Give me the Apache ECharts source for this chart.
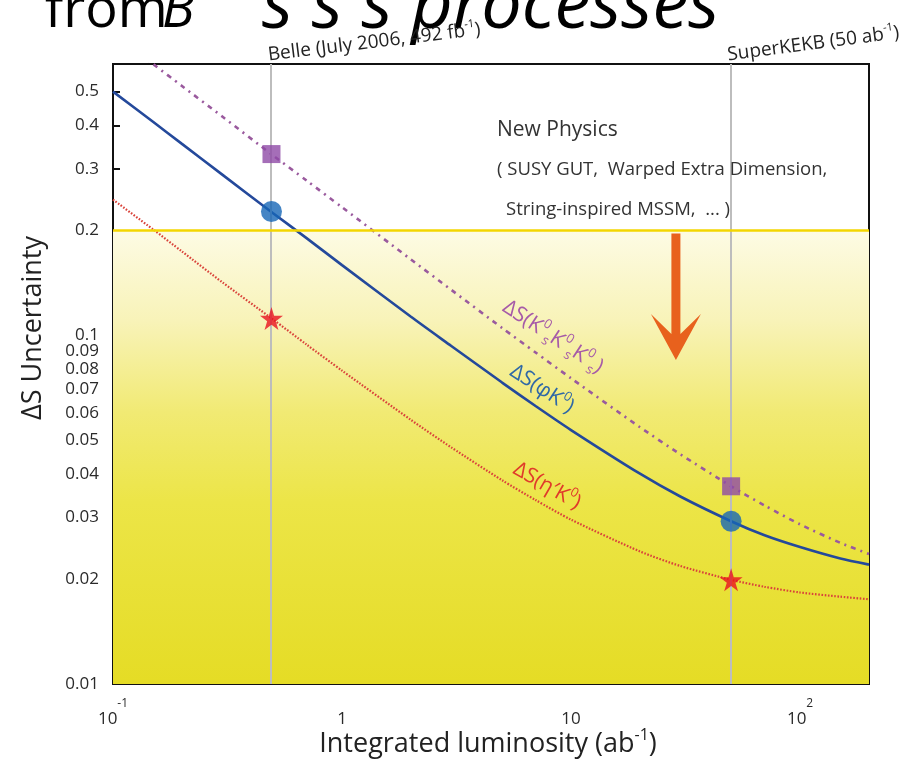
<!DOCTYPE html>
<html>
<head>
<meta charset="utf-8">
<script src="https://cdn.jsdelivr.net/npm/echarts@6/dist/echarts.min.js"></script>
<style>
  html, body { margin: 0; padding: 0; background: #ffffff; }
  #chart { width: 903px; height: 760px; }
</style>
</head>
<body>
<div id="chart"></div>
<script>
// Integrated luminosity (ab^-1) sample points
const luminosity = [0.1, 0.15, 0.2, 0.3, 0.5, 0.7, 1, 2, 3, 5, 7, 10, 20, 30, 50, 70, 100, 150, 200];
// Expected ΔS uncertainty for each mode
const phiK0 = [0.500, 0.409, 0.354, 0.289, 0.224, 0.190, 0.159, 0.113, 0.0932, 0.0732, 0.0627, 0.0535, 0.0401, 0.0345, 0.0293, 0.0267, 0.0247, 0.0229, 0.0220];
const ksksks = [0.734, 0.599, 0.519, 0.424, 0.328, 0.278, 0.233, 0.165, 0.135, 0.105, 0.0893, 0.0753, 0.0545, 0.0456, 0.0369, 0.0325, 0.0287, 0.0254, 0.0236];
const etaK0 = [0.245, 0.201, 0.174, 0.142, 0.111, 0.0941, 0.0792, 0.0572, 0.0477, 0.0384, 0.0337, 0.0296, 0.0240, 0.0218, 0.0199, 0.0190, 0.0183, 0.0178, 0.0175];

// Belle (492 fb^-1) and SuperKEKB (50 ab^-1) reference points
const milestoneLumi = [0.492, 50];
const phiK0Points = [0.2265, 0.0293];
const ksksksPoints = [0.331, 0.0369];
const etaK0Points = [0.1118, 0.0199];

// New-physics reach line and arrow
const npLevel = 0.2;
const arrowLumi = 28.7;
const arrowFrom = 0.196;
const arrowTo = 0.085;

// Axis ticks
const xMajorTicks = [0.1, 1, 10, 100];
const xMinorTicks = [0.2, 0.3, 0.4, 0.5, 0.6, 0.7, 0.8, 0.9, 2, 3, 4, 5, 6, 7, 8, 9, 20, 30, 40, 50, 60, 70, 80, 90, 200];
const yTickLabels = ['0.01', '0.02', '0.03', '0.04', '0.05', '0.06', '0.07', '0.08', '0.09', '0.1', '0.2', '0.3', '0.4', '0.5'];
const yTickValues = yTickLabels.map(Number);

const FONT = '"Open Sans", "Noto Sans", sans-serif';
const chart = echarts.init(document.getElementById('chart'), null, { renderer: 'canvas' });

const pair = (xs, ys) => xs.map((x, i) => [x, ys[i]]);
const starPath = 'path://M50,0 L61,35 L98,35 L68,57 L79,91 L50,70 L21,91 L32,57 L2,35 L39,35 Z';

function xLabel(v) {
  const p = Math.round(Math.log10(v));
  if (p === 0) return '{n|1}';
  if (p === 1) return '{n|10}';
  return '{n|10}{s|' + p + '}';
}

const option = {
  animation: false,
  backgroundColor: '#ffffff',
  grid: { left: 113, right: 34, top: 64, bottom: 76, show: true, borderColor: '#111', borderWidth: 2, backgroundColor: 'transparent' },
  xAxis: [{
    type: 'log', logBase: 10, min: 0.1, max: 200,
    axisLine: { show: true, lineStyle: { color: '#111', width: 2 } },
    axisTick: { show: true, inside: true, length: 9, customValues: xMajorTicks, lineStyle: { color: '#111', width: 2 } },
    minorTick: { show: false },
    splitLine: { show: false },
    axisLabel: {
      customValues: xMajorTicks, margin: 14, formatter: xLabel,
      rich: {
        n: { fontFamily: FONT, fontSize: 17, color: '#2a2a2a', lineHeight: 30, verticalAlign: 'bottom' },
        s: { fontFamily: FONT, fontSize: 12, color: '#2a2a2a', verticalAlign: 'top', lineHeight: 30 }
      }
    }
  }, {
    type: 'log', logBase: 10, min: 0.1, max: 200, position: 'bottom',
    axisLine: { show: false },
    axisTick: { show: true, inside: true, length: 5, customValues: xMinorTicks, lineStyle: { color: '#111', width: 1.6 } },
    axisLabel: { show: false },
    splitLine: { show: false }
  }],
  yAxis: {
    type: 'log', logBase: 10, min: 0.01, max: 0.6,
    axisLine: { show: true, lineStyle: { color: '#111', width: 2 } },
    axisTick: { show: true, inside: true, length: 7, customValues: yTickValues, lineStyle: { color: '#111', width: 2 } },
    minorTick: { show: false },
    splitLine: { show: false },
    axisLabel: {
      customValues: yTickValues, margin: 14,
      formatter: v => { const i = yTickValues.findIndex(t => Math.abs(t - v) < 1e-9); return i >= 0 ? yTickLabels[i] : ''; },
      fontFamily: FONT, fontSize: 17, color: '#2a2a2a'
    }
  },
  series: [
    {
      // shaded region below the new-physics level
      type: 'line', data: [], z: 1, silent: true,
      markArea: {
        silent: true,
        itemStyle: {
          color: new echarts.graphic.LinearGradient(0, 0, 0, 1, [
            { offset: 0, color: '#fdfbe4' },
            { offset: 0.2, color: '#f8f3b8' },
            { offset: 0.4, color: '#f1ea74' },
            { offset: 0.6, color: '#ece547' },
            { offset: 1, color: '#e5dc25' }
          ])
        },
        data: [[{ yAxis: 0.01 }, { yAxis: npLevel }]]
      }
    },
    {
      type: 'line', data: [], z: 2, silent: true,
      markLine: {
        silent: true, symbol: ['none', 'none'], label: { show: false },
        data: [
          { xAxis: milestoneLumi[0], lineStyle: { color: '#bdbdbd', width: 2, type: 'solid' } },
          { xAxis: milestoneLumi[1], lineStyle: { color: '#bdbdbd', width: 2, type: 'solid' } },
          { yAxis: npLevel, lineStyle: { color: '#f3d600', width: 2.5, type: 'solid' } }
        ]
      }
    },
    {
      name: 'KsKsKs', type: 'line', z: 3, data: pair(luminosity, ksksks), smooth: 0.25, showSymbol: false,
      lineStyle: { color: '#9a5a9e', width: 2.6, type: [5, 5, 2, 5] }
    },
    {
      name: 'phiK0', type: 'line', z: 3, data: pair(luminosity, phiK0), smooth: 0.25, showSymbol: false,
      lineStyle: { color: '#24499b', width: 2.6, type: 'solid' }
    },
    {
      name: 'etaK0', type: 'line', z: 3, data: pair(luminosity, etaK0), smooth: 0.25, showSymbol: false,
      lineStyle: { color: '#d9433a', width: 2.2, type: [1.6, 1.6] }
    },
    {
      type: 'scatter', z: 5, data: pair(milestoneLumi, ksksksPoints), symbol: 'rect', symbolSize: 18,
      itemStyle: { color: '#8f4aa6' }
    },
    {
      type: 'scatter', z: 5, data: pair(milestoneLumi, phiK0Points), symbol: 'circle', symbolSize: 21,
      itemStyle: { color: '#1767b6' }
    },
    {
      type: 'scatter', z: 5, data: pair(milestoneLumi, etaK0Points), symbol: starPath, symbolSize: 23,
      itemStyle: { color: '#e8121f' }
    }
  ]
};

chart.setOption(option);

// Annotations placed from the axis scales
const px = (x, y) => chart.convertToPixel({ xAxisIndex: 0, yAxisIndex: 0 }, [x, y]);
const arrowTop = px(arrowLumi, arrowFrom);
const arrowTip = px(arrowLumi, arrowTo);
const ax = arrowTop[0];
const arrowPoints = [
  [ax - 4.5, arrowTop[1]], [ax + 4.5, arrowTop[1]], [ax + 4.5, arrowTip[1] - 26],
  [ax + 25, arrowTip[1] - 46], [ax, arrowTip[1]], [ax - 25, arrowTip[1] - 46], [ax - 4.5, arrowTip[1] - 26]
];
const bellePx = px(milestoneLumi[0], 0.6);
const skekbPx = px(milestoneLumi[1], 0.6);

const labelRich = (color) => ({
  m: { fontFamily: FONT, fontSize: 21, fill: color, lineHeight: 28 },
  p: { fontFamily: FONT, fontSize: 13, fill: color, verticalAlign: 'top', lineHeight: 28 },
  b: { fontFamily: FONT, fontSize: 13, fill: color, verticalAlign: 'bottom', lineHeight: 28 }
});
const supRich = {
  t: { fontFamily: FONT, fontSize: 19, fill: '#222', lineHeight: 24 },
  u: { fontFamily: FONT, fontSize: 11, fill: '#222', verticalAlign: 'top', lineHeight: 24 }
};

chart.setOption({
  graphic: [
    // slide heading, partly cut by the top edge
    { type: 'text', x: 45, y: 39, style: { text: 'from', font: '400 54px ' + FONT, fill: '#000', verticalAlign: 'bottom' } },
    { type: 'text', x: 162, y: 39, style: { text: 'B', font: 'italic 400 54px ' + FONT, fill: '#000', verticalAlign: 'bottom' } },
    { type: 'text', x: 262, y: 43, style: { text: 's s s processes', font: 'italic 400 72px ' + FONT, fill: '#000', verticalAlign: 'bottom' } },
    // milestones
    { type: 'text', x: bellePx[0] - 2, y: 67, rotation: 0.12,
      style: { text: '{t|Belle (July 2006, 492 fb}{u|-1}{t|)}', rich: supRich, align: 'left', verticalAlign: 'bottom' } },
    { type: 'text', x: skekbPx[0] - 2, y: 67, rotation: 0.13,
      style: { text: '{t|SuperKEKB (50 ab}{u|-1}{t|)}', rich: supRich, align: 'left', verticalAlign: 'bottom' } },
    // new physics note
    { type: 'text', x: 497, y: 130, z: 10, style: { text: 'New Physics', font: '21px ' + FONT, fill: '#333', verticalAlign: 'middle' } },
    { type: 'text', x: 497, y: 170, z: 10, style: { text: '( SUSY GUT,  Warped Extra Dimension,', font: '18.5px ' + FONT, fill: '#333', verticalAlign: 'middle' } },
    { type: 'text', x: 506, y: 210, z: 10, style: { text: 'String-inspired MSSM,  ... )', font: '18.5px ' + FONT, fill: '#333', verticalAlign: 'middle' } },
    { type: 'polygon', z: 10, shape: { points: arrowPoints }, style: { fill: '#e8611d' } },
    // curve labels
    { type: 'text', x: 553, y: 337, rotation: -0.58, z: 10,
      style: { text: '{m|ΔS(K}{p|0}{b|s}{m|K}{p|0}{b|s}{m|K}{p|0}{b|s}{m|)}', rich: labelRich('#a65aa8'), align: 'center', verticalAlign: 'middle' } },
    { type: 'text', x: 542, y: 389, rotation: -0.58, z: 10,
      style: { text: '{m|ΔS(φK}{p|0}{m|)}', rich: labelRich('#2f68a6'), align: 'center', verticalAlign: 'middle' } },
    { type: 'text', x: 547, y: 486, rotation: -0.52, z: 10,
      style: { text: '{m|ΔS(η′K}{p|0}{m|)}', rich: labelRich('#e03a2a'), align: 'center', verticalAlign: 'middle' } },
    // axis titles
    { type: 'text', x: 33, y: 328, rotation: Math.PI / 2,
      style: { text: 'ΔS Uncertainty', font: '27px ' + FONT, fill: '#222', align: 'center', verticalAlign: 'middle' } },
    { type: 'text', x: 488, y: 744,
      style: { text: '{t|Integrated luminosity (ab}{u|-1}{t|)}', align: 'center', verticalAlign: 'middle',
        rich: {
          t: { fontFamily: FONT, fontSize: 27, fill: '#222', lineHeight: 34 },
          u: { fontFamily: FONT, fontSize: 16, fill: '#222', verticalAlign: 'top', lineHeight: 34 }
        } } }
  ]
});
</script>
</body>
</html>
